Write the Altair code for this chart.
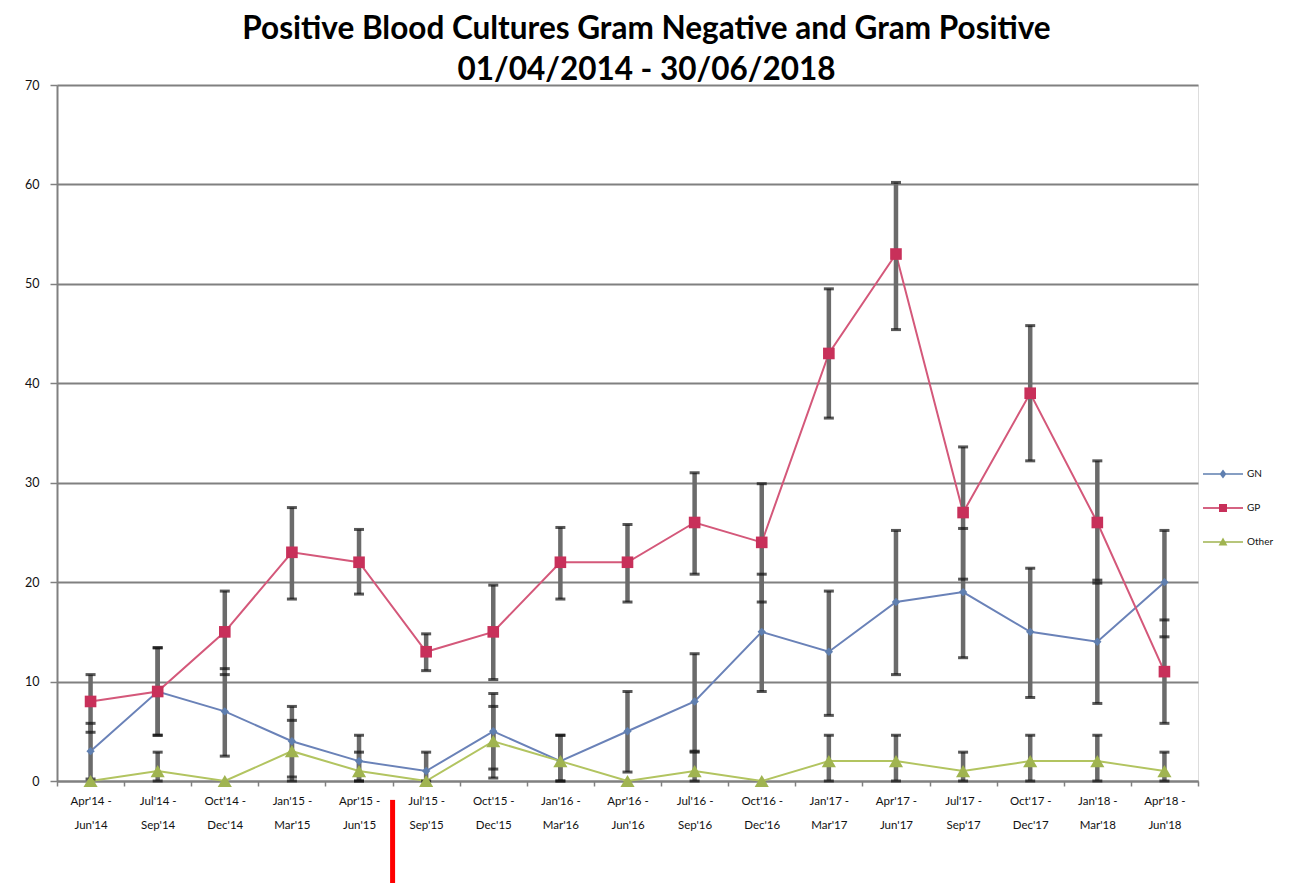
import altair as alt
import pandas as pd

categories = ["Apr'14 - Jun'14", "Jul'14 - Sep'14", "Oct'14 - Dec'14", "Jan'15 - Mar'15",
              "Apr'15 - Jun'15", "Jul'15 - Sep'15", "Oct'15 - Dec'15", "Jan'16 - Mar'16",
              "Apr'16 - Jun'16", "Jul'16 - Sep'16", "Oct'16 - Dec'16", "Jan'17 - Mar'17",
              "Apr'17 - Jun'17", "Jul'17 - Sep'17", "Oct'17 - Dec'17", "Jan'18 - Mar'18",
              "Apr'18 - Jun'18"]

series_names = ["GN", "GP", "Other"]

gn = [3, 9, 7, 4, 2, 1, 5, 2, 5, 8, 15, 13, 18, 19, 15, 14, 20]
gn_low = [0.2, 4.6, 2.5, 0.4, 0.0, 0.0, 1.2, 0.0, 0.9, 3.0, 9.0, 6.6, 10.7, 12.4, 8.4, 7.8, 14.5]
gn_high = [5.8, 13.4, 11.3, 7.5, 4.6, 2.9, 8.8, 4.6, 9.0, 12.8, 20.8, 19.1, 25.2, 25.4, 21.4, 20.2, 25.2]

gp = [8, 9, 15, 23, 22, 13, 15, 22, 22, 26, 24, 43, 53, 27, 39, 26, 11]
gp_low = [4.9, 4.6, 10.7, 18.3, 18.8, 11.1, 10.2, 18.3, 18.0, 20.8, 18.0, 36.5, 45.4, 20.3, 32.2, 19.9, 5.8]
gp_high = [10.7, 13.4, 19.1, 27.5, 25.3, 14.8, 19.7, 25.5, 25.8, 31.0, 29.9, 49.5, 60.2, 33.6, 45.8, 32.2, 16.2]

other = [0, 1, 0, 3, 1, 0, 4, 2, 0, 1, 0, 2, 2, 1, 2, 2, 1]
other_low = [0, 0, 0, 0, 0, 0, 0.3, 0, 0, 0, 0, 0, 0, 0, 0, 0, 0]
other_high = [0, 2.9, 0, 6.1, 2.9, 0, 7.5, 4.6, 0, 2.9, 0, 4.6, 4.6, 2.9, 4.6, 4.6, 2.9]

# annotation marker (red bar below the axis at the start of Jul'15)
annot_category = ["Jul'15 - Sep'15"]
annot_top = [-1.9]
annot_bottom = [-11.0]

line_colors = ["#6a82b8", "#d4587a", "#b2c460"]
point_colors = ["#5f7fb0", "#c8305a", "#a0b450"]
shapes = ["diamond", "square", "triangle-up"]

# legend glyphs: a line segment with the series marker on it
LINE = "M-1,-0.04H1V0.04H-1Z "
legend_shapes = [
    LINE + "M0,-0.22L0.17,0L0,0.22L-0.17,0Z",
    LINE + "M-0.2,-0.2H0.2V0.2H-0.2Z",
    LINE + "M0,-0.22L0.22,0.17H-0.22Z",
]

rows = []
for name, vals, lo, hi in [("GN", gn, gn_low, gn_high),
                           ("GP", gp, gp_low, gp_high),
                           ("Other", other, other_low, other_high)]:
    for c, v, l, h in zip(categories, vals, lo, hi):
        rows.append({"category": c, "series": name, "value": v, "low": l, "high": h})
df = pd.DataFrame(rows)
err_df = df[df["high"] > df["low"]]

annot_df = pd.DataFrame({"category": annot_category, "top": annot_top, "bottom": annot_bottom})

FONT = "Lato, Roboto, sans-serif"

x_scale = alt.Scale(type="band", paddingInner=0, paddingOuter=0, domain=categories)
x_axis = alt.Axis(
    title=None, labelAngle=0, tickBand="extent",
    labelExpr="datum.label ? [split(datum.label, ' - ')[0] + ' -', split(datum.label, ' - ')[1]] : ''",
    labelFontSize=11.5, labelLineHeight=24, labelPadding=9, labelColor="#111",
    domainColor="#808080", domainWidth=2, tickColor="#808080", tickSize=5, tickWidth=1.5,
    labelFont=FONT,
)
y_scale = alt.Scale(domain=[0, 70], nice=False, zero=True)
y_axis = alt.Axis(
    title=None, values=list(range(0, 71, 10)), grid=True, gridColor="#808080", gridWidth=2,
    domainColor="#808080", domainWidth=2, tickColor="#808080", tickSize=7, tickWidth=1.5,
    labelFontSize=12.5, labelPadding=11, labelColor="#111", labelFont=FONT,
)

X = alt.X("category:N", sort=categories, scale=x_scale, axis=x_axis)

lines = alt.Chart(df).mark_line(strokeWidth=2).encode(
    x=X,
    y=alt.Y("value:Q", scale=y_scale, axis=y_axis),
    color=alt.Color("series:N", scale=alt.Scale(domain=series_names, range=line_colors), legend=None),
)

bars = alt.Chart(err_df).mark_rule(color="#6b6b6b", strokeWidth=4.5).encode(
    x=X, y=alt.Y("low:Q", scale=y_scale), y2="high:Q",
)
cap_hi = alt.Chart(err_df).mark_tick(color="#111", size=10, thickness=3).encode(
    x=X, y=alt.Y("high:Q", scale=y_scale),
)
cap_lo = alt.Chart(err_df).mark_tick(color="#111", size=10, thickness=3).encode(
    x=X, y=alt.Y("low:Q", scale=y_scale),
)

points = alt.Chart(df).mark_point(filled=True, opacity=1).encode(
    x=X,
    y=alt.Y("value:Q", scale=y_scale),
    color=alt.Color("series:N", scale=alt.Scale(domain=series_names, range=point_colors), legend=None),
    shape=alt.Shape("series:N", scale=alt.Scale(domain=series_names, range=shapes), legend=None),
    size=alt.Size("series:N", scale=alt.Scale(domain=series_names, range=[70, 200, 90]), legend=None),
)

# layer that draws nothing (all rows filtered out) and only carries the legend
legend_layer = alt.Chart(df).transform_filter("false").mark_point(filled=True, opacity=1, size=1600).encode(
    x=X,
    y=alt.Y("value:Q", scale=y_scale),
    color=alt.Color("series:N", scale=alt.Scale(domain=series_names, range=point_colors),
                    legend=alt.Legend(title=None, orient="none", legendX=1146, legendY=369,
                                      labelFontSize=10, labelFont=FONT, labelColor="#111",
                                      rowPadding=9, symbolSize=1600, symbolOpacity=1,
                                      symbolStrokeWidth=0, labelOffset=4, padding=0)),
    shape=alt.Shape("series:N", scale=alt.Scale(domain=series_names, range=legend_shapes)),
)

annot = alt.Chart(annot_df).mark_rule(color="#ff0000", strokeWidth=5, clip=False).encode(
    x=alt.X("category:N", sort=categories, scale=x_scale, bandPosition=0),
    y=alt.Y("top:Q", scale=y_scale), y2="bottom:Q",
)

chart = alt.layer(lines, bars, cap_hi, cap_lo, points, legend_layer, annot).resolve_scale(
    color="independent", shape="independent", size="independent"
).properties(
    width=1141, height=696,
    autosize=alt.AutoSizeParams(type="none"),
    padding={"left": 49, "top": 77, "right": 87, "bottom": 102},
    title=alt.TitleParams(
        text=["Positive Blood Cultures  Gram Negative and Gram Positive", "01/04/2014 - 30/06/2018"],
        fontSize=31.5, font=FONT, fontWeight="bold", color="#000", anchor="middle",
        lineHeight=41, offset=2, dx=19, dy=9,
    ),
).configure_view(stroke=None).configure(background="white")

chart.save("out.html", embed_options={"renderer": "svg", "actions": False})
